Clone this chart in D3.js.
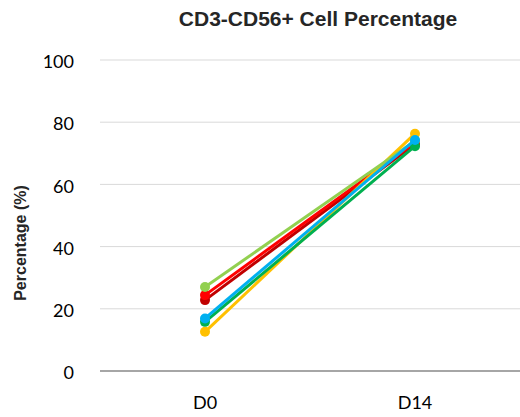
<!DOCTYPE html>
<html><head><meta charset="utf-8">
<script src="https://cdn.jsdelivr.net/npm/d3@7"></script>
<style>body{margin:0;background:#fff}svg{display:block}</style>
</head><body>
<svg id="c" width="520" height="417"></svg>
<script>
const categories = ["D0", "D14"];
const seriesNames = ["S1", "S2", "S3", "S4", "S5", "S6"];
const seriesColors = ["#C00000", "#FF0000", "#FFC000", "#92D050", "#00B050", "#00B0F0"];
const valuesD0  = [22.8, 24.4, 12.6, 27.0, 15.8, 16.9];
const valuesD14 = [73.0, 73.5, 76.3, 74.0, 72.3, 74.3];
const yTicks = [0, 20, 40, 60, 80, 100];
const titleText = "CD3-CD56+ Cell Percentage";
const yLabel = "Percentage (%)";

const svg = d3.select("#c");
const L = 100, R = 520, T = 60, B = 371;
const x = d3.scaleBand().domain(categories).range([L, R]);
const y = d3.scaleLinear().domain([0, 100]).range([B, T]);

svg.append("g").selectAll("line").data(yTicks.filter(d => d > 0)).join("line")
  .attr("x1", L).attr("x2", R).attr("y1", d => y(d)).attr("y2", d => y(d))
  .attr("stroke", "#d9d9d9").attr("stroke-width", 1);
svg.append("line").attr("x1", L).attr("x2", R).attr("y1", y(0)).attr("y2", y(0))
  .attr("stroke", "#898989").attr("stroke-width", 1.5);

const yAxis = d3.axisLeft(y).tickValues(yTicks).tickSize(0).tickPadding(0);
const ga = svg.append("g").attr("transform", `translate(${L - 26},2)`).call(yAxis);
ga.select(".domain").remove();
ga.selectAll("text").attr("font-family", "Lato, 'Open Sans', sans-serif").attr("font-size", 18).attr("fill", "#000");

const xAxis = d3.axisBottom(x).tickSize(0).tickPadding(0);
const gx = svg.append("g").attr("transform", `translate(0,${B + 25})`).call(xAxis);
gx.select(".domain").remove();
gx.selectAll("text").attr("font-family", "Lato, 'Open Sans', sans-serif").attr("font-size", 18).attr("fill", "#000");

const series = seriesNames.map((n, i) => ({name: n, color: seriesColors[i], vals: [valuesD0[i], valuesD14[i]]}));
const line = d3.line().x((d, j) => x(categories[j]) + x.bandwidth() / 2).y(d => y(d));
series.forEach(s => {
  const g = svg.append("g");
  g.append("path").attr("d", line(s.vals)).attr("fill", "none").attr("stroke", s.color).attr("stroke-width", 3);
  g.selectAll("circle").data(s.vals).join("circle")
    .attr("cx", (d, j) => x(categories[j]) + x.bandwidth() / 2).attr("cy", d => y(d))
    .attr("r", 5).attr("fill", s.color);
});

svg.append("text").attr("x", 318).attr("y", 26).attr("text-anchor", "middle")
  .attr("font-family", "Liberation Sans, Arial, sans-serif").attr("font-weight", "bold")
  .attr("font-size", 21).attr("fill", "#262626").text(titleText);
svg.append("text").attr("transform", `translate(26,243) rotate(-90)`).attr("text-anchor", "middle")
  .attr("font-family", "Liberation Sans, Arial, sans-serif").attr("font-weight", "bold")
  .attr("font-size", 16).attr("fill", "#262626").text(yLabel);
</script>
</body></html>
